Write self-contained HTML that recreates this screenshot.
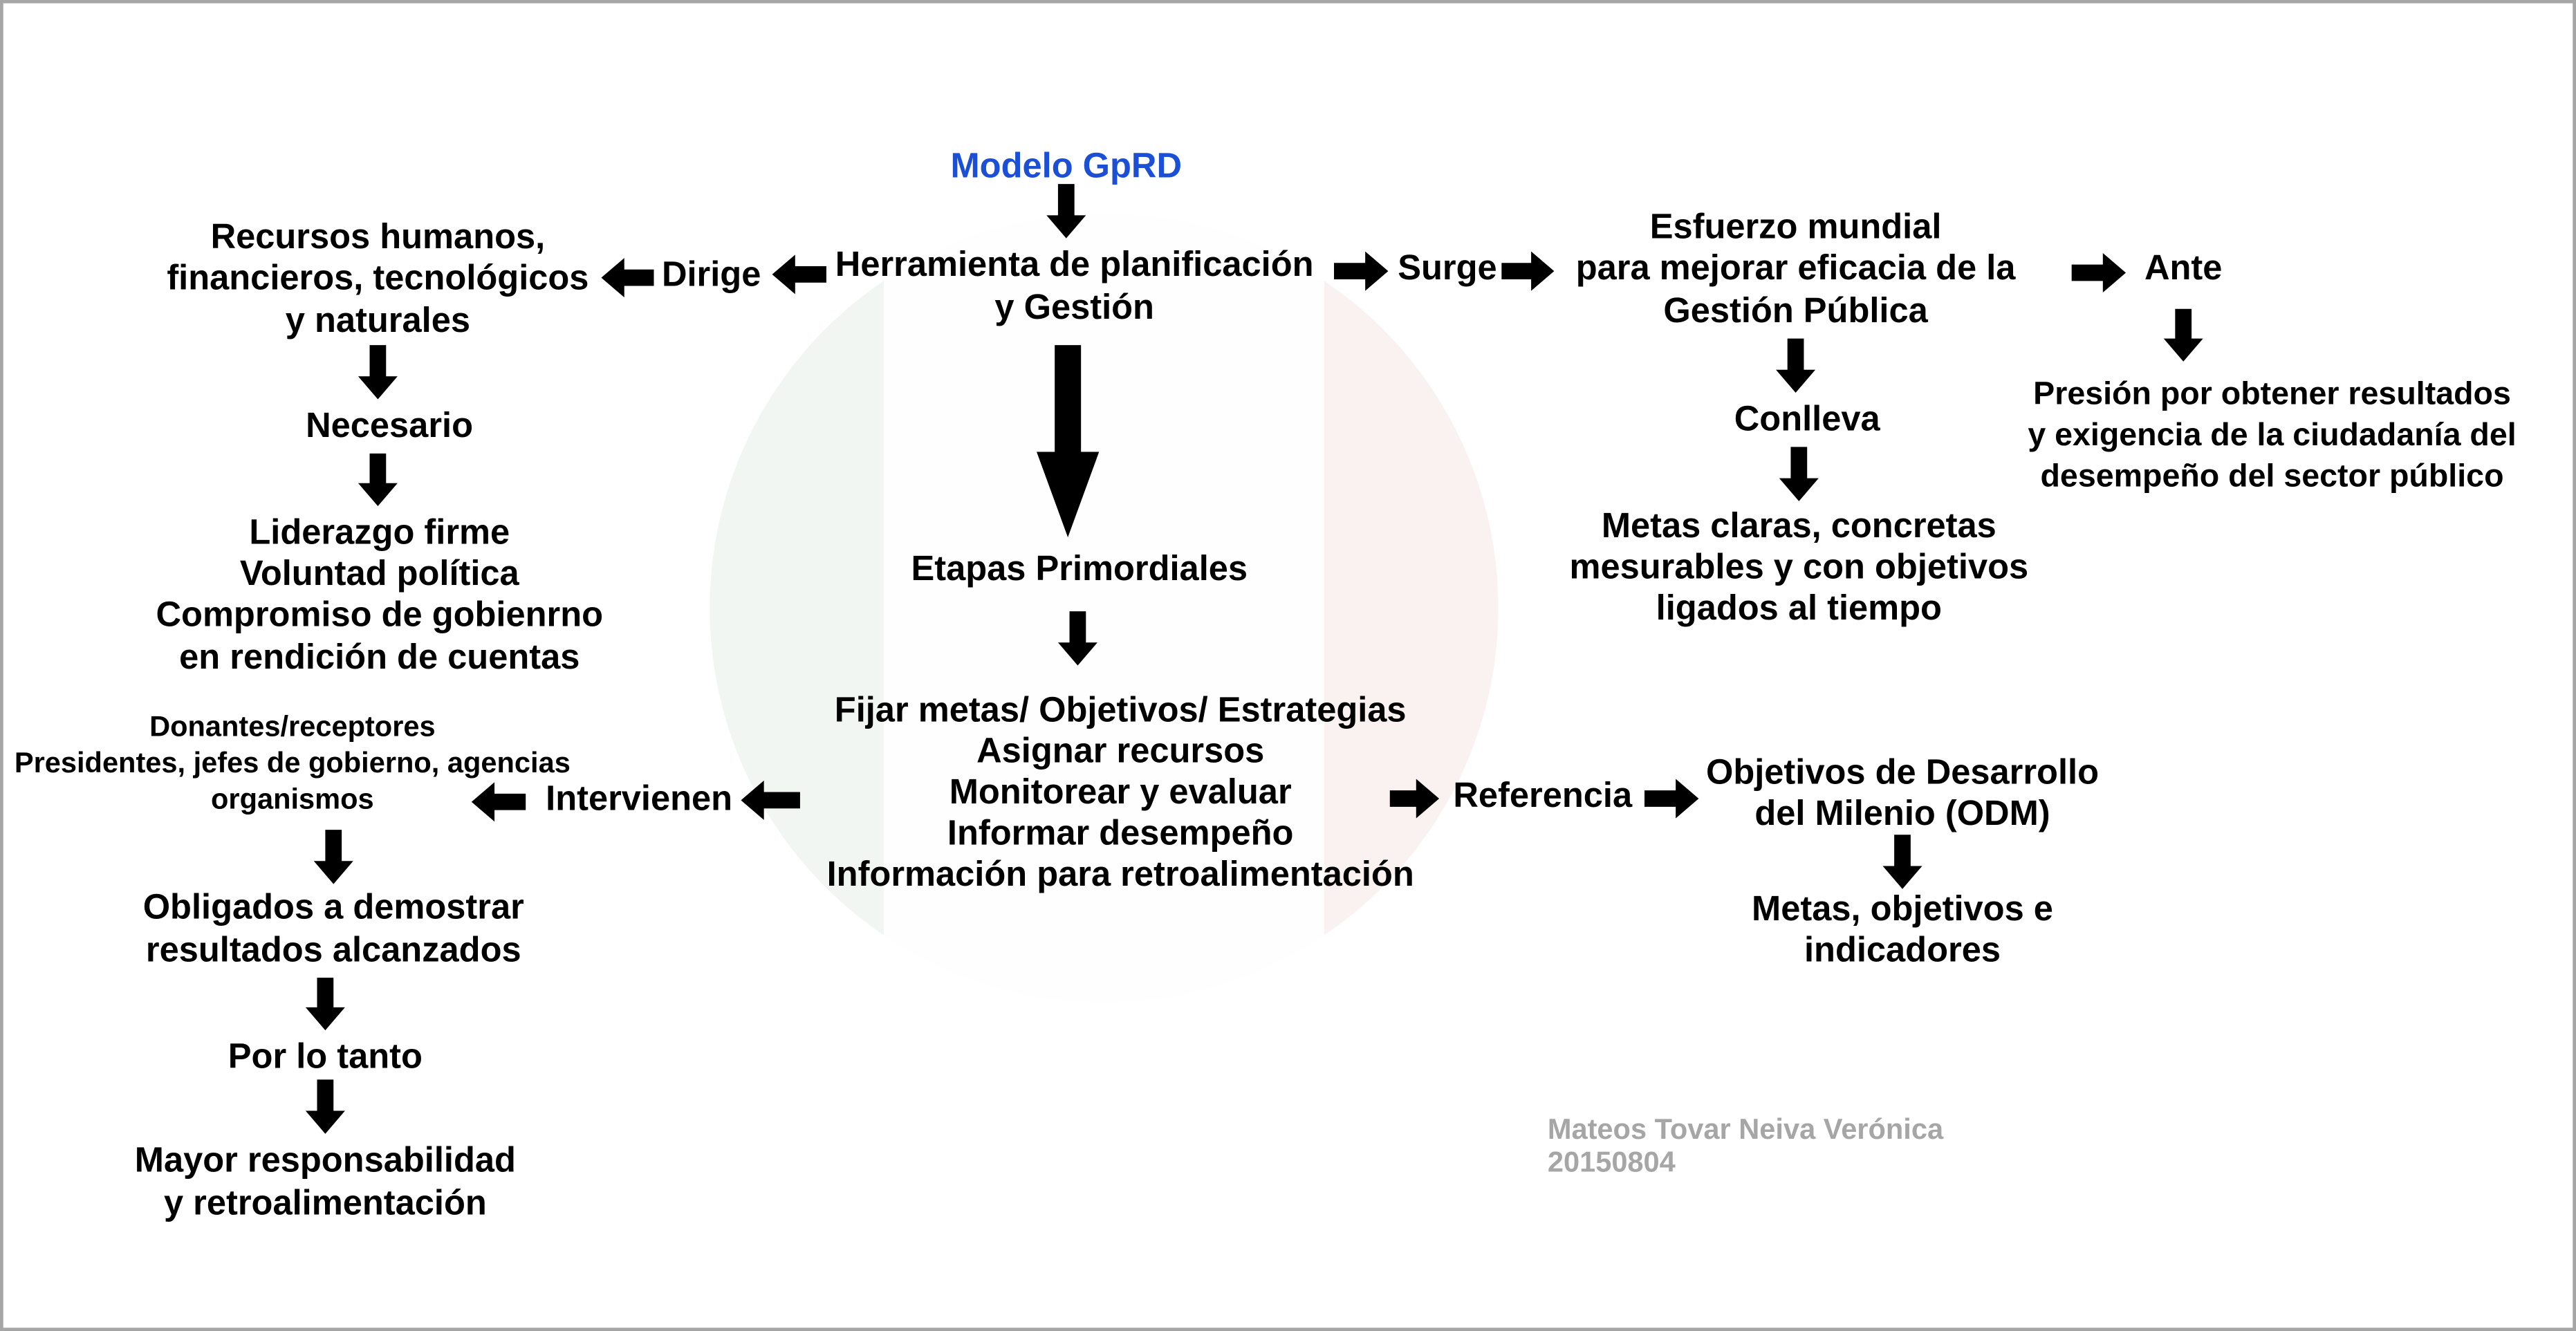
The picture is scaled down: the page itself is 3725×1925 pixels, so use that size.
<!DOCTYPE html>
<html><head><meta charset="utf-8">
<style>
html,body{margin:0;padding:0;background:#fff;}
svg{display:block;}
text{font-family:"Liberation Sans",Arial,sans-serif;font-weight:bold;fill:#000;}
</style></head>
<body>
<svg width="3725" height="1925" viewBox="0 0 1568 810" preserveAspectRatio="none" xmlns="http://www.w3.org/2000/svg">
<defs>
<clipPath id="c"><circle cx="672" cy="370" r="240"/></clipPath>
</defs>
<rect x="0" y="0" width="1568" height="810" fill="#fff"/>
<rect x="1" y="1" width="1566" height="808" fill="none" stroke="#a6a6a6" stroke-width="2"/>
<g clip-path="url(#c)">
<rect x="420" y="120" width="118" height="520" fill="#f1f6f2"/>
<rect x="538" y="120" width="268" height="520" fill="#fefefe"/>
<rect x="806" y="120" width="120" height="520" fill="#faf1f1"/>
</g>
<g fill="#000">
<path d="M644 112h10v19h7l-12 14l-12-14h7z"/>
<path d="M225 210h10v19h7l-12 14l-12-14h7z"/>
<path d="M225 276h10v18h7l-12 14l-12-14h7z"/>
<path d="M651 372h10v19h7l-12 14l-12-14h7z"/>
<path d="M198 505h10v19h7l-12 14l-12-14h7z"/>
<path d="M193 595h10v18h7l-12 14l-12-14h7z"/>
<path d="M193 657h10v19h7l-12 14l-12-14h7z"/>
<path d="M1324 188h10v18h7l-12 14l-12-14h7z"/>
<path d="M1088 206h10v19h7l-12 14l-12-14h7z"/>
<path d="M1090 272h10v19h7l-12 14l-12-14h7z"/>
<path d="M1153 508h10v19h7l-12 14l-12-14h7z"/>
<path d="M642 210h16v65h11l-19 52l-19-52h11z"/>
<path d="M503 162v10h-19v7l-14-12l14-12v7z"/>
<path d="M398 164v10h-18v7l-14-12l14-12v7z"/>
<path d="M487 482v10h-22v7l-14-12l14-12v7z"/>
<path d="M320 483v10h-19v7l-14-12l14-12v7z"/>
<path d="M812 160v10h19v7l14-12l-14-12v7z"/>
<path d="M914 160v10h18v7l14-12l-14-12v7z"/>
<path d="M1261 161v10h19v7l14-12l-14-12v7z"/>
<path d="M846 481v10h16v7l14-12l-14-12v7z"/>
<path d="M1001 481v10h19v7l14-12l-14-12v7z"/>
</g>
<g font-size="21.3" text-anchor="middle">
<text x="649" y="108" style="fill:#1a4fd6">Modelo GpRD</text>
<text x="654" y="168">Herramienta de planificación</text>
<text x="654" y="194">y Gestión</text>
<text x="433" y="174">Dirige</text>
<text x="230" y="151">Recursos humanos,</text>
<text x="230" y="176">financieros, tecnológicos</text>
<text x="230" y="202">y naturales</text>
<text x="237" y="266">Necesario</text>
<text x="231" y="331">Liderazgo firme</text>
<text x="231" y="356">Voluntad política</text>
<text x="231" y="381">Compromiso de gobienrno</text>
<text x="231" y="407">en rendición de cuentas</text>
<text x="657" y="353">Etapas Primordiales</text>
<text x="682" y="439">Fijar metas/ Objetivos/ Estrategias</text>
<text x="682" y="464">Asignar recursos</text>
<text x="682" y="489">Monitorear y evaluar</text>
<text x="682" y="514">Informar desempeño</text>
<text x="682" y="539">Información para retroalimentación</text>
<text x="389" y="493">Intervienen</text>
<text x="203" y="559">Obligados a demostrar</text>
<text x="203" y="585">resultados alcanzados</text>
<text x="198" y="650">Por lo tanto</text>
<text x="198" y="713">Mayor responsabilidad</text>
<text x="198" y="739">y retroalimentación</text>
<text x="881" y="170">Surge</text>
<text x="1093" y="145">Esfuerzo mundial</text>
<text x="1093" y="170">para mejorar eficacia de la</text>
<text x="1093" y="196">Gestión Pública</text>
<text x="1329" y="170">Ante</text>
<text x="1100" y="262">Conlleva</text>
<text x="1095" y="327">Metas claras, concretas</text>
<text x="1095" y="352">mesurables y con objetivos</text>
<text x="1095" y="377">ligados al tiempo</text>
<text x="939" y="491">Referencia</text>
<text x="1158" y="477">Objetivos de Desarrollo</text>
<text x="1158" y="502">del Milenio (ODM)</text>
<text x="1158" y="560">Metas, objetivos e</text>
<text x="1158" y="585">indicadores</text>
</g>
<g font-size="19.6" text-anchor="middle">
<text x="1383" y="246">Presión por obtener resultados</text>
<text x="1383" y="271">y exigencia de la ciudadanía del</text>
<text x="1383" y="296">desempeño del sector público</text>
</g>
<g font-size="17.5" text-anchor="middle">
<text x="178" y="448">Donantes/receptores</text>
<text x="178" y="470">Presidentes, jefes de gobierno, agencias</text>
<text x="178" y="492">organismos</text>
</g>
<g font-size="17.5">
<text x="942" y="693" style="fill:#a6a6a6">Mateos Tovar Neiva Verónica</text>
<text x="942" y="713" style="fill:#a6a6a6">20150804</text>
</g>
</svg>
</body></html>
